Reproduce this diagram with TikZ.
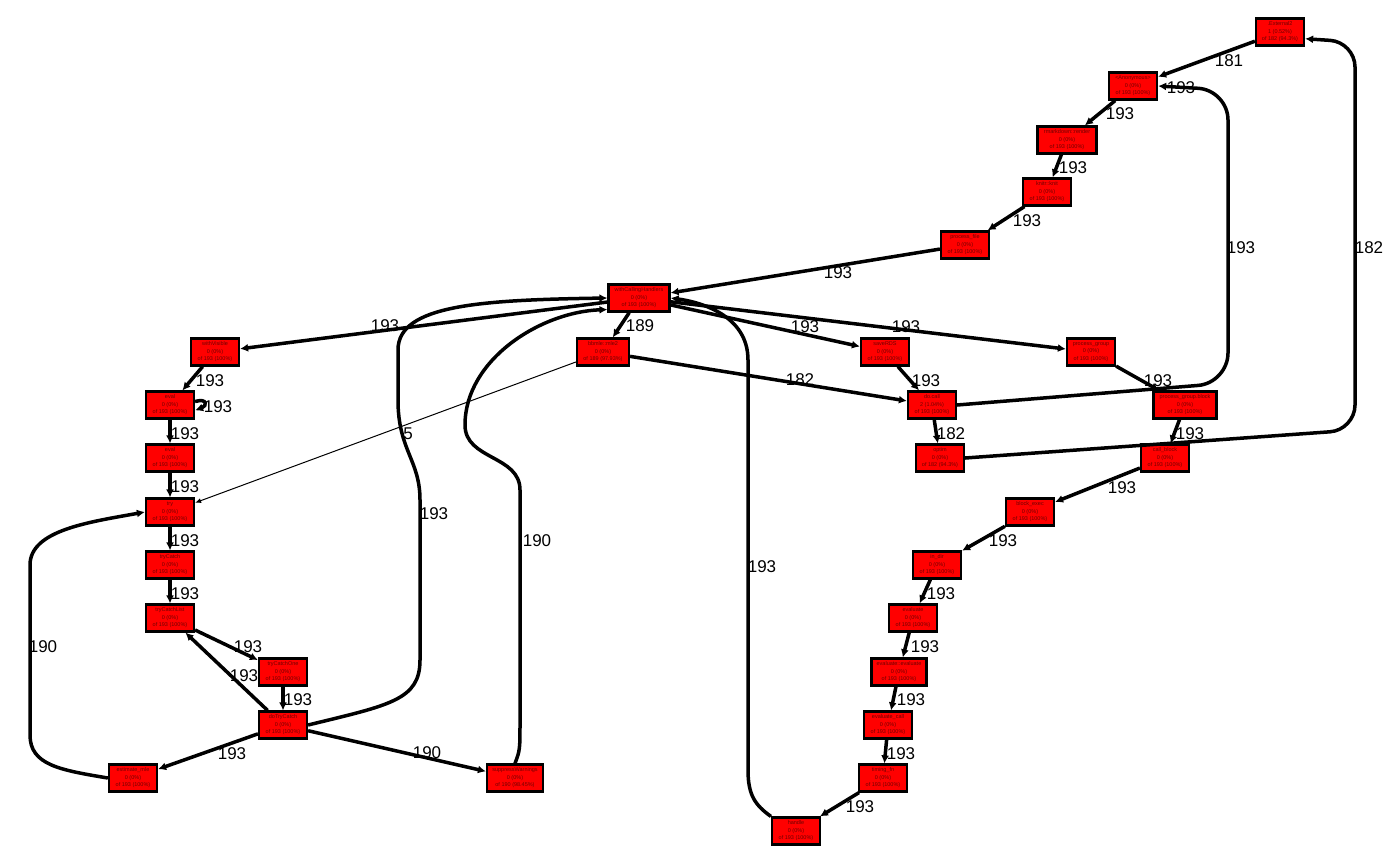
\documentclass[tikz,border=0pt]{standalone}
\usepackage{fontspec}
\setmainfont{Liberation Sans}
\usetikzlibrary{arrows.meta}
\definecolor{textred}{RGB}{110,0,0}
\begin{document}
\begin{tikzpicture}[x=1pt,y=-1pt,
  fn/.style={draw=black, line width=2.2pt, fill=red, minimum width=48pt, minimum height=27pt,
    inner sep=0pt, align=center, font=\fontsize{5.5}{7.5}\selectfont, text=textred},
  edge/.style={line width=3.5pt, -{Latex[length=8pt,width=8pt]}},
  thinedge/.style={line width=1pt, -{Latex[length=6pt,width=5pt]}},
  lbl/.style={font=\fontsize{17}{17}\selectfont, text=black, inner sep=0pt}]
\fill[white] (0,0) rectangle (1400,865);
\useasboundingbox (0,0) rectangle (1400,865);

% nodes
\node[fn] (ext) at (1280,32) {.External2\\1 (0.52\%)\\of  182 (94.3\%)};
\node[fn] (anon) at (1133,86) {<Anonymous>\\0 (0\%)\\of  193 (100\%)};
\node[fn, minimum width=59pt] (rmd) at (1067,140) {rmarkdown::render\\0 (0\%)\\of  193 (100\%)};
\node[fn] (knit) at (1047,192) {knitr::knit\\0 (0\%)\\of  193 (100\%)};
\node[fn] (pfile) at (965,245) {process\_file\\0 (0\%)\\of  193 (100\%)};
\node[fn, minimum width=61pt] (wch) at (639,298) {withCallingHandlers\\0 (0\%)\\of  193 (100\%)};
\node[fn] (wvis) at (215,352) {withVisible\\0 (0\%)\\of  193 (100\%)};
\node[fn, minimum width=52pt] (mle) at (603,352) {bbmle::mle2\\0 (0\%)\\of  189 (97.93\%)};
\node[fn] (srds) at (885,352) {saveRDS\\0 (0\%)\\of  193 (100\%)};
\node[fn] (pg) at (1091,352) {process\_group\\0 (0\%)\\of  193 (100\%)};
\node[fn] (ev1) at (170,405) {eval\\0 (0\%)\\of  193 (100\%)};
\node[fn] (docall) at (932,405) {do.call\\2 (1.04\%)\\of  193 (100\%)};
\node[fn, minimum width=63pt] (pgb) at (1185,405) {process\_group.block\\0 (0\%)\\of  193 (100\%)};
\node[fn] (ev2) at (170,458) {eval\\0 (0\%)\\of  193 (100\%)};
\node[fn] (optim) at (940,458) {optim\\0 (0\%)\\of  182 (94.3\%)};
\node[fn] (cb) at (1165,458) {call\_block\\0 (0\%)\\of  193 (100\%)};
\node[fn] (try) at (170,512) {try\\0 (0\%)\\of  193 (100\%)};
\node[fn] (bexec) at (1030,512) {block\_exec\\0 (0\%)\\of  193 (100\%)};
\node[fn] (tc) at (170,565) {tryCatch\\0 (0\%)\\of  193 (100\%)};
\node[fn] (indir) at (937,565) {in\_dir\\0 (0\%)\\of  193 (100\%)};
\node[fn] (tcl) at (170,618) {tryCatchList\\0 (0\%)\\of  193 (100\%)};
\node[fn] (evalu) at (913,618) {evaluate\\0 (0\%)\\of  193 (100\%)};
\node[fn] (tco) at (283,672) {tryCatchOne\\0 (0\%)\\of  193 (100\%)};
\node[fn, minimum width=55pt] (eveval) at (899,672) {evaluate::evaluate\\0 (0\%)\\of  193 (100\%)};
\node[fn] (dtc) at (283,725) {doTryCatch\\0 (0\%)\\of  193 (100\%)};
\node[fn] (evcall) at (888,725) {evaluate\_call\\0 (0\%)\\of  193 (100\%)};
\node[fn] (emle) at (133,778) {estimate\_mle\\0 (0\%)\\of  193 (100\%)};
\node[fn, minimum width=56pt] (sw) at (515,778) {suppressWarnings\\0 (0\%)\\of  190 (98.45\%)};
\node[fn] (tfn) at (883,778) {timing\_fn\\0 (0\%)\\of  193 (100\%)};
\node[fn] (handle) at (796,831) {handle\\0 (0\%)\\of  193 (100\%)};

% straight edges
\draw[edge] (ext) -- (anon);
\draw[edge] (anon) -- (rmd);
\draw[edge] (rmd) -- (knit);
\draw[edge] (knit) -- (pfile);
\draw[edge] (pfile) -- (wch);
\draw[edge] (wch) -- (wvis);
\draw[edge] (wch) -- (mle);
\draw[edge] (wch) -- (srds);
\draw[edge] (wch) -- (pg);
\draw[edge] (wvis) -- (ev1);
\draw[edge] (ev1) -- (ev2);
\draw[edge] (ev2) -- (try);
\draw[edge] (try) -- (tc);
\draw[edge] (tc) -- (tcl);
\draw[edge] (tcl) -- (tco);
\draw[edge] (tco) -- (dtc);
\draw[edge] (dtc) -- (tcl);
\draw[edge] (dtc) -- (emle);
\draw[edge] (dtc) -- (sw);
\draw[thinedge] (mle) -- (try);
\draw[edge] (mle) -- (docall);
\draw[edge] (srds) -- (docall);
\draw[edge] (docall) -- (optim);
\draw[edge] (pg) -- (pgb);
\draw[edge] (pgb) -- (cb);
\draw[edge] (cb) -- (bexec);
\draw[edge] (bexec) -- (indir);
\draw[edge] (indir) -- (evalu);
\draw[edge] (evalu) -- (eveval);
\draw[edge] (eveval) -- (evcall);
\draw[edge] (evcall) -- (tfn);
\draw[edge] (tfn) -- (handle);

% self loop on eval
\draw[edge] (ev1.8) .. controls (208,398) and (207,406) .. (ev1.-12);

% curved edges
\draw[edge] (dtc.east) .. controls (390,705) and (420,700) .. (420,660) -- (420,500)
  .. controls (420,460) and (398,450) .. (398,400) -- (398,350)
  .. controls (398,305) and (480,300) .. (wch.west);
\draw[edge] (sw.north) .. controls (520,750) .. (520,720) -- (520,490)
  .. controls (520,455) and (465,460) .. (465,425)
  .. controls (465,360) and (540,312) .. (wch.200);
\draw[edge] (handle.north west) .. controls (755,805) and (748,795) .. (748,770) -- (748,360)
  .. controls (748,315) and (700,302) .. (wch.east);
\draw[edge] (emle.west) .. controls (60,770) and (30,765) .. (30,735) -- (30,565)
  .. controls (30,530) and (90,522) .. (try.west);
\draw[edge, rounded corners=25pt] (optim.east) -- (1355,430) -- (1355,42) -- (ext.-15);
\draw[edge, rounded corners=30pt] (docall.east) -- (1228,383) -- (1228,90) -- (anon.east);

% edge labels
\node[lbl] (l1) at (1229,61) {181};
\node[lbl] (l2) at (1181,88) {193};
\node[lbl] (l3) at (1120,114) {193};
\node[lbl] (l4) at (1073,168) {193};
\node[lbl] (l5) at (1027,221) {193};
\node[lbl] (l6) at (838,273) {193};
\node[lbl] (l7) at (1369,248) {182};
\node[lbl] (l8) at (1241,248) {193};
\node[lbl] (l9) at (640,326) {189};
\node[lbl] (l10) at (385,326) {193};
\node[lbl] (l11) at (805,327) {193};
\node[lbl] (l12) at (906,327) {193};
\node[lbl] (l13) at (210,381) {193};
\node[lbl] (l14) at (218,407) {193};
\node[lbl] (l15) at (1158,381) {193};
\node[lbl] (l16) at (926,381) {193};
\node[lbl] (l17) at (800,380) {182};
\node[lbl] (l18) at (185,434) {193};
\node[lbl] (l19) at (408,434) {5};
\node[lbl] (l20) at (951,434) {182};
\node[lbl] (l21) at (1190,434) {193};
\node[lbl] (l22) at (185,487) {193};
\node[lbl] (l23) at (1122,488) {193};
\node[lbl] (l24) at (434,514) {193};
\node[lbl] (l25) at (537,541) {190};
\node[lbl] (l26) at (185,541) {193};
\node[lbl] (l27) at (1003,541) {193};
\node[lbl] (l28) at (762,567) {193};
\node[lbl] (l29) at (185,594) {193};
\node[lbl] (l30) at (941,594) {193};
\node[lbl] (l31) at (43,647) {190};
\node[lbl] (l32) at (248,647) {193};
\node[lbl] (l33) at (925,647) {193};
\node[lbl] (l34) at (244,676) {193};
\node[lbl] (l35) at (298,700) {193};
\node[lbl] (l36) at (911,700) {193};
\node[lbl] (l37) at (232,754) {193};
\node[lbl] (l38) at (427,753) {190};
\node[lbl] (l39) at (901,754) {193};
\node[lbl] (l40) at (860,807) {193};
\end{tikzpicture}
\end{document}
